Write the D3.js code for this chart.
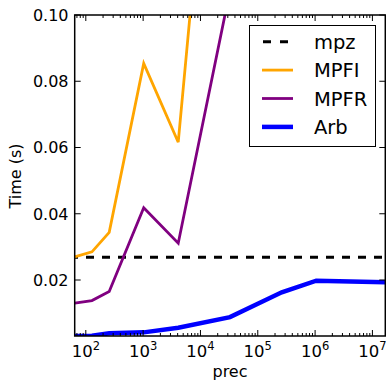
<!DOCTYPE html>
<html><head><meta charset="utf-8">
<script src="https://cdn.jsdelivr.net/npm/d3@7"></script>
<style>body{margin:0;background:#fff}svg{display:block;font-family:"DejaVu Sans",sans-serif}</style>
</head><body><svg id="c" width="386" height="382"></svg>
<script>
const precs = [64, 128, 256, 1024, 4096, 32768, 262144, 1048576, 16777216];
const mpz  = [0.0269, 0.0269, 0.0269, 0.0269, 0.0269, 0.0269, 0.0269, 0.0269, 0.0269];
const mpfi = [0.027, 0.0285, 0.0344, 0.0854, 0.0616, 0.23];
const mpfr = [0.013, 0.0138, 0.0165, 0.0418, 0.0311, 0.1074];
const arb  = [0.0031, 0.0032, 0.0039, 0.0042, 0.0056, 0.0088, 0.0163, 0.0198, 0.0193];
const yTicks = [0.02, 0.04, 0.06, 0.08, 0.10];
const xTicks = [100, 1000, 10000, 100000, 1000000, 10000000];
const names = ["mpz", "MPFI", "MPFR", "Arb"];

const L = 74.7, R = 385.3, T = 15, B = 336;
const svg = d3.select("#c");
const x = d3.scaleLog().domain([64, 16777216]).range([L, R]);
const y = d3.scaleLinear().domain([0.0031, 0.1]).range([B, T]);

svg.append("clipPath").attr("id", "clip").append("rect")
  .attr("x", L).attr("y", T).attr("width", R - L).attr("height", B - T);

const series = [
  {name: "mpz", vals: mpz, color: "#000", w: 3, dash: "8,8"},
  {name: "MPFI", vals: mpfi, color: "#FFA500", w: 2.8},
  {name: "MPFR", vals: mpfr, color: "#800080", w: 2.8},
  {name: "Arb", vals: arb, color: "#0000FF", w: 4.5}
];
const line = d3.line().x(d => x(d[0])).y(d => y(d[1]));
const g = svg.append("g").attr("clip-path", "url(#clip)");
series.forEach(s => {
  const p = g.append("path").datum(s.vals.map((v, i) => [precs[i], v]))
    .attr("d", line).attr("fill", "none").attr("stroke", s.color)
    .attr("stroke-width", s.w).attr("stroke-linejoin", "miter");
  if (s.dash) p.attr("stroke-dasharray", s.dash).attr("stroke-dashoffset", 4.7);
});

// ticks
const minor = [];
for (let e = 1; e <= 7; e++) for (let k = 2; k <= 9; k++) { const v = k * Math.pow(10, e); if (v >= 64 && v <= 16777216) minor.push(v); }
const tk = svg.append("g").attr("stroke", "#000").attr("stroke-width", 1);
xTicks.forEach(v => {
  tk.append("line").attr("x1", x(v)).attr("x2", x(v)).attr("y1", B).attr("y2", B - 6);
  tk.append("line").attr("x1", x(v)).attr("x2", x(v)).attr("y1", T).attr("y2", T + 6);
});
minor.forEach(v => {
  tk.append("line").attr("x1", x(v)).attr("x2", x(v)).attr("y1", B).attr("y2", B - 3);
  tk.append("line").attr("x1", x(v)).attr("x2", x(v)).attr("y1", T).attr("y2", T + 3);
});
yTicks.forEach(v => {
  tk.append("line").attr("x1", L).attr("x2", L + 6).attr("y1", y(v)).attr("y2", y(v));
  tk.append("line").attr("x1", R).attr("x2", R - 6).attr("y1", y(v)).attr("y2", y(v));
});

// frame
svg.append("rect").attr("x", L).attr("y", T).attr("width", R - L).attr("height", B - T)
  .attr("fill", "none").attr("stroke", "#000").attr("stroke-width", 1.5);

// tick labels
yTicks.forEach(v => {
  svg.append("text").attr("x", 68.5).attr("y", y(v)).attr("dy", "0.36em")
    .attr("text-anchor", "end").attr("font-size", 16).text(v.toFixed(2));
});
xTicks.forEach(v => {
  const t = svg.append("text").attr("x", x(v)).attr("y", 357)
    .attr("text-anchor", "middle").attr("font-size", 16.5);
  t.append("tspan").text("10");
  t.append("tspan").attr("font-size", 11.5).attr("dy", -7).text(Math.round(Math.log10(v)));
});

// axis labels
svg.append("text").attr("x", (L + R) / 2).attr("y", 377).attr("text-anchor", "middle")
  .attr("font-size", 16).text("prec");
svg.append("text").attr("transform", `translate(21,176) rotate(-90)`).attr("text-anchor", "middle")
  .attr("font-size", 16).text("Time (s)");

// legend
const lg = svg.append("g");
lg.append("rect").attr("x", 249.5).attr("y", 25.5).attr("width", 126).attr("height", 121)
  .attr("fill", "#fff").attr("stroke", "#000").attr("stroke-width", 1);
series.forEach((s, i) => {
  const yy = 41.7 + i * 28.4;
  const l = lg.append("line").attr("x1", 262).attr("x2", 293).attr("y1", yy).attr("y2", yy)
    .attr("stroke", s.color).attr("stroke-width", s.w);
  if (s.dash) l.attr("stroke-dasharray", "8,9").attr("stroke-dashoffset", -1);
  lg.append("text").attr("x", 314).attr("y", yy).attr("dy", "0.36em")
    .attr("font-size", 19.5).text(names[i]);
});
</script></body></html>
